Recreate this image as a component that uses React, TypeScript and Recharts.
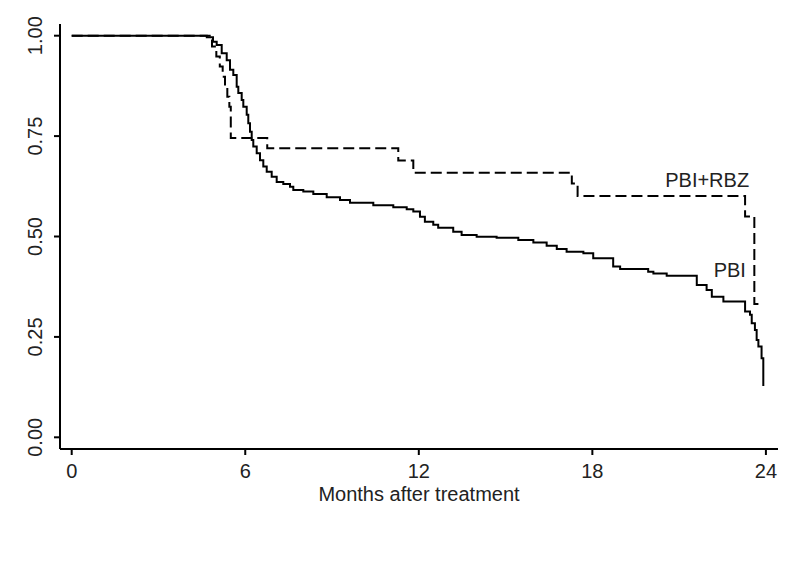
import React from 'react';
import { LineChart, Line, XAxis, YAxis, ReferenceDot } from 'recharts';

// PBI (solid) Kaplan-Meier steps: month of drop, survival after drop
const pbiMonths = [0, 4.44, 4.67, 4.885, 5.013, 5.186, 5.359, 5.473, 5.587, 5.704, 5.76, 5.877, 5.933, 6.05, 6.105, 6.164, 6.223, 6.278, 6.396, 6.51, 6.624, 6.742, 6.914, 7.087, 7.315, 7.547, 7.661, 8.007, 8.353, 8.816, 9.276, 9.621, 10.427, 11.118, 11.582, 11.81, 12.04, 12.21, 12.5, 12.67, 13.19, 13.48, 14.0, 14.69, 15.44, 15.96, 16.42, 16.77, 17.11, 17.69, 18.03, 18.72, 18.96, 19.93, 20.11, 20.57, 21.61, 21.95, 22.13, 22.53, 23.28, 23.45, 23.51, 23.62, 23.68, 23.74, 23.85, 23.91];
const pbiSurv = [1, 1, 0.996, 0.985, 0.977, 0.956, 0.939, 0.915, 0.902, 0.873, 0.857, 0.84, 0.823, 0.803, 0.782, 0.761, 0.74, 0.724, 0.707, 0.69, 0.674, 0.661, 0.649, 0.636, 0.631, 0.624, 0.616, 0.612, 0.606, 0.598, 0.591, 0.584, 0.578, 0.573, 0.568, 0.562, 0.549, 0.537, 0.529, 0.522, 0.512, 0.504, 0.4995, 0.497, 0.491, 0.485, 0.477, 0.469, 0.462, 0.458, 0.446, 0.425, 0.419, 0.412, 0.408, 0.402, 0.379, 0.367, 0.35, 0.338, 0.313, 0.305, 0.284, 0.267, 0.242, 0.226, 0.197, 0.128];

// PBI+RBZ (dashed)
const rbzMonths = [0, 4.85, 5.0, 5.12, 5.22, 5.3, 5.38, 5.45, 5.5, 6.76, 11.29, 11.81, 17.29, 17.49, 23.28, 23.6, 23.85];
const rbzSurv = [1, 0.973, 0.948, 0.923, 0.898, 0.873, 0.848, 0.823, 0.745, 0.72, 0.689, 0.659, 0.632, 0.601, 0.55, 0.332, 0.332];

const xTicks = [0, 6, 12, 18, 24];
const yTicks = [0, 0.25, 0.5, 0.75, 1];
const xTitle = 'Months after treatment';
const seriesLabels = { pbi: 'PBI', rbz: 'PBI+RBZ' };

const pbiData = pbiMonths.map((m, i) => ({ m, s: pbiSurv[i] }));
const rbzData = rbzMonths.map((m, i) => ({ m, s: rbzSurv[i] }));

const FONT = '"Liberation Sans", Arial, Helvetica, sans-serif';
const FS = 20;
const INK = '#222';

const YTick = (props: any) => {
  const { x, y, payload } = props;
  return (
    <text
      x={x}
      y={y}
      transform={`rotate(-90 ${x} ${y})`}
      textAnchor="middle"
      fontFamily={FONT}
      fontSize={FS}
      fill={INK}
    >
      {Number(payload.value).toFixed(2)}
    </text>
  );
};

const XTick = (props: any) => {
  const { x, y, payload } = props;
  return (
    <text x={x} y={y} dy="0.71em" textAnchor="middle" fontFamily={FONT} fontSize={FS} fill={INK}>
      {payload.value}
    </text>
  );
};

const makeLabel = (text: string) => (props: any) => {
  const vb = props.viewBox || {};
  return (
    <text x={vb.x} y={vb.y} textAnchor="end" fontFamily={FONT} fontSize={FS} fill={INK}>
      {text}
    </text>
  );
};

export default function App() {
  return (
    <div style={{ position: 'absolute', left: 0, top: 0, background: '#fff' }}>
      <LineChart width={800} height={582} margin={{ top: 24, right: 22, bottom: 0, left: 0 }}>
        <XAxis
          dataKey="m"
          type="number"
          domain={[-0.4045, 24.418]}
          allowDataOverflow
          ticks={xTicks}
          interval={0}
          tickSize={6}
          tickMargin={9}
          height={133}
          axisLine={{ stroke: '#000', strokeWidth: 2 }}
          tickLine={{ stroke: '#000', strokeWidth: 2 }}
          tick={<XTick />}
          label={{
            value: xTitle,
            position: 'insideTop',
            offset: 38,
            fontFamily: FONT,
            fontSize: FS,
            fill: INK,
          }}
        />
        <YAxis
          type="number"
          domain={[-0.0291, 1.0291]}
          allowDataOverflow
          ticks={yTicks}
          interval={0}
          width={60}
          tickSize={6}
          tickMargin={12}
          axisLine={{ stroke: '#000', strokeWidth: 2 }}
          tickLine={{ stroke: '#000', strokeWidth: 2 }}
          tick={<YTick />}
        />
        <Line
          data={pbiData}
          dataKey="s"
          type="stepAfter"
          stroke="#000"
          strokeWidth={2}
          dot={false}
          activeDot={false}
          isAnimationActive={false}
        />
        <Line
          data={rbzData}
          dataKey="s"
          type="stepAfter"
          stroke="#000"
          strokeWidth={2}
          strokeDasharray="11 5"
          dot={false}
          activeDot={false}
          isAnimationActive={false}
        />
        <ReferenceDot x={23.42} y={0.623} r={0} fill="none" stroke="none" label={makeLabel(seriesLabels.rbz)} />
        <ReferenceDot x={23.31} y={0.4} r={0} fill="none" stroke="none" label={makeLabel(seriesLabels.pbi)} />
      </LineChart>
    </div>
  );
}
